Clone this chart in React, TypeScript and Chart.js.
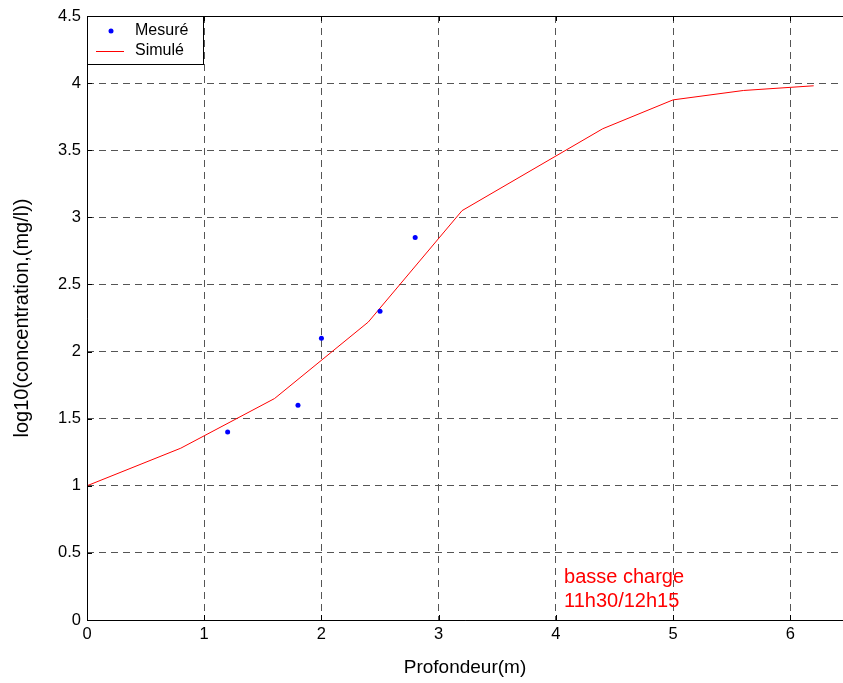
import { useEffect, useRef } from "react";
import { Chart, registerables } from "chart.js";

Chart.register(...registerables);

// Measured profile (depth in m, log10 of concentration in mg/l)
const depthMeasured = [1.2, 1.8, 2.0, 2.5, 2.8];
const logConcMeasured = [1.4, 1.6, 2.1, 2.3, 2.85];

// Simulated profile
const depthSimulated = [0, 0.8, 1.6, 2.4, 3.2, 4.4, 5.0, 5.6, 6.2];
const logConcSimulated = [1.0, 1.28, 1.65, 2.22, 3.05, 3.66, 3.875, 3.945, 3.98];

const xTicks = [0, 1, 2, 3, 4, 5, 6];
const xTickLabels = ["0", "1", "2", "3", "4", "5", "6"];
const yTicks = [0, 0.5, 1, 1.5, 2, 2.5, 3, 3.5, 4, 4.5];
const yTickLabels = ["0", "0.5", "1", "1.5", "2", "2.5", "3", "3.5", "4", "4.5"];

const legendLabels = ["Mesuré", "Simulé"];
const noteLines = ["basse charge", "11h30/12h15"];
const noteAnchor = { x: 4.07, y: 0.276 };

const FONT = "'Liberation Sans', Arial, Helvetica, sans-serif";

// Frame, inward tick marks, legend box and note text
const decorations = {
  id: "decorations",
  afterDraw(chart: any) {
    const { ctx, chartArea, scales } = chart;
    const { left, right, top, bottom } = chartArea;
    const xs = scales.x;
    const ys = scales.y;
    ctx.save();

    // axes frame (left, bottom, top)
    ctx.strokeStyle = "#000";
    ctx.lineWidth = 1;
    ctx.setLineDash([]);
    ctx.beginPath();
    ctx.moveTo(left + 0.5, top + 0.5);
    ctx.lineTo(left + 0.5, bottom + 0.5);
    ctx.lineTo(right, bottom + 0.5);
    ctx.moveTo(left, top + 0.5);
    ctx.lineTo(right, top + 0.5);
    ctx.stroke();

    // inward ticks
    ctx.beginPath();
    xTicks.forEach((v) => {
      const px = Math.round(xs.getPixelForValue(v)) + 0.5;
      ctx.moveTo(px, bottom);
      ctx.lineTo(px, bottom - 5);
      ctx.moveTo(px, top);
      ctx.lineTo(px, top + 5);
    });
    yTicks.forEach((v) => {
      const py = Math.round(ys.getPixelForValue(v)) + 0.5;
      ctx.moveTo(left, py);
      ctx.lineTo(left + 5, py);
    });
    ctx.stroke();

    // note
    ctx.fillStyle = "#ff0000";
    ctx.font = `20px ${FONT}`;
    ctx.textAlign = "left";
    ctx.textBaseline = "alphabetic";
    const nx = xs.getPixelForValue(noteAnchor.x);
    const ny = ys.getPixelForValue(noteAnchor.y);
    noteLines.forEach((line, i) => ctx.fillText(line, nx, ny + i * 24));

    // legend box
    const bx = left + 0.5;
    const by = top + 0.5;
    ctx.fillStyle = "#fff";
    ctx.fillRect(bx, by, 116, 48);
    ctx.strokeStyle = "#000";
    ctx.strokeRect(bx, by, 116, 48);

    ctx.fillStyle = "#0000ff";
    ctx.beginPath();
    ctx.arc(left + 24, top + 15, 2.5, 0, Math.PI * 2);
    ctx.fill();

    ctx.strokeStyle = "#ff0000";
    ctx.beginPath();
    ctx.moveTo(left + 9, top + 35.5);
    ctx.lineTo(left + 37, top + 35.5);
    ctx.stroke();

    ctx.fillStyle = "#000";
    ctx.font = `16px ${FONT}`;
    ctx.textBaseline = "middle";
    ctx.fillText(legendLabels[0], left + 48, top + 15);
    ctx.fillText(legendLabels[1], left + 48, top + 35);

    ctx.restore();
  },
};

export default function App() {
  const canvasRef = useRef<HTMLCanvasElement | null>(null);

  useEffect(() => {
    const canvas = canvasRef.current;
    if (!canvas) return;
    const chart = new Chart(canvas, {
      type: "scatter",
      data: {
        datasets: [
          {
            label: legendLabels[0],
            data: depthMeasured.map((x, i) => ({ x, y: logConcMeasured[i] })),
            showLine: false,
            pointRadius: 2.5,
            pointBackgroundColor: "#0000ff",
            pointBorderWidth: 0,
            borderColor: "#0000ff",
          },
          {
            label: legendLabels[1],
            data: depthSimulated.map((x, i) => ({ x, y: logConcSimulated[i] })),
            showLine: true,
            pointRadius: 0,
            borderColor: "#ff0000",
            borderWidth: 1,
            tension: 0,
          },
        ],
      },
      options: {
        responsive: false,
        animation: false,
        devicePixelRatio: 1,
        layout: { autoPadding: false, padding: { top: 16, right: 0, left: 0, bottom: 0 } },
        plugins: {
          legend: { display: false },
          tooltip: { enabled: false },
        },
        scales: {
          x: {
            type: "linear",
            min: 0,
            max: 6.45,
            afterBuildTicks: (scale: any) => {
              scale.ticks = xTicks.map((value) => ({ value }));
            },
            afterFit: (scale: any) => {
              scale.height = 63;
              scale.paddingLeft = 0;
              scale.paddingRight = 0;
            },
            grid: { color: "#555", lineWidth: 1, drawTicks: false },
            border: { display: false, dash: [7, 5] },
            ticks: {
              color: "#000",
              padding: 5,
              maxRotation: 0,
              font: { family: FONT, size: 16.5 },
              callback: (_v: any, i: number) => xTickLabels[i],
            },
            title: {
              display: true,
              text: "Profondeur(m)",
              color: "#000",
              font: { family: FONT, size: 19 },
              padding: { top: 0, bottom: 4 },
            },
          },
          y: {
            type: "linear",
            min: 0,
            max: 4.5,
            afterBuildTicks: (scale: any) => {
              scale.ticks = yTicks.map((value) => ({ value }));
            },
            afterFit: (scale: any) => {
              scale.width = 87;
              scale.paddingTop = 0;
              scale.paddingBottom = 0;
            },
            grid: { color: "#555", lineWidth: 1, drawTicks: false },
            border: { display: false, dash: [7, 5] },
            ticks: {
              color: "#000",
              padding: 6,
              font: { family: FONT, size: 16.5 },
              callback: (_v: any, i: number) => yTickLabels[i],
            },
            title: {
              display: true,
              text: "log10(concentration,(mg/l))",
              color: "#000",
              font: { family: FONT, size: 20 },
              padding: { top: 10, bottom: 0 },
            },
          },
        },
      },
      plugins: [decorations],
    });
    return () => chart.destroy();
  }, []);

  return (
    <div
      style={{
        position: "fixed",
        left: 0,
        top: 0,
        width: 843,
        height: 683,
        background: "#fff",
      }}
    >
      <canvas ref={canvasRef} width={843} height={683} />
    </div>
  );
}
